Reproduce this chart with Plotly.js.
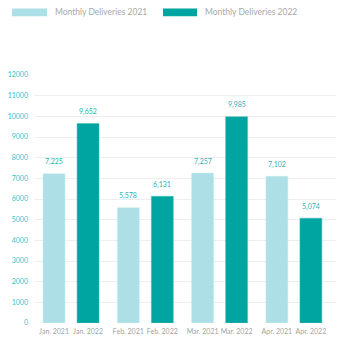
<!DOCTYPE html>
<html><head><meta charset="utf-8">
<script src="https://cdn.plot.ly/plotly-3.0.1.min.js"></script>
<style>html,body{margin:0;padding:0;background:#fff;}#chart{width:349px;height:343px;}</style>
</head><body><div id="chart"></div>
<script>
const months = ["Jan.", "Feb.", "Mar.", "Apr."];
const labels2021 = ["Jan. 2021", "Feb. 2021", "Mar. 2021", "Apr. 2021"];
const labels2022 = ["Jan. 2022", "Feb. 2022", "Mar. 2022", "Apr. 2022"];
const values2021 = [7225, 5578, 7257, 7102];
const values2022 = [9652, 6131, 9985, 5074];
const seriesNames = ["Monthly Deliveries 2021", "Monthly Deliveries 2022"];

const c2021 = "#addfe6", c2022 = "#00a4a1";
const off = 0.229, bw = 0.296;
const idx = months.map((m, i) => i);
const x2021 = idx.map(i => i - off);
const x2022 = idx.map(i => i + off);
const fmt = v => v.toLocaleString("en-US");
const font = "Lato, 'Open Sans', sans-serif";

const traces = [
  {type: "bar", x: x2021, y: values2021, width: bw, name: seriesNames[0],
   marker: {color: c2021, line: {color: "#c8ecef", width: 0.5}}, hoverinfo: "y"},
  {type: "bar", x: x2022, y: values2022, width: bw, name: seriesNames[1],
   marker: {color: c2022, line: {color: "#4cc0bd", width: 0.5}}, hoverinfo: "y"}
];

const ann = [];
x2021.forEach((x, i) => ann.push({x: x, y: values2021[i], text: fmt(values2021[i]), showarrow: false,
  yshift: 12, font: {size: 7, color: "#2bb3b3", family: font}}));
x2022.forEach((x, i) => ann.push({x: x, y: values2022[i], text: fmt(values2022[i]), showarrow: false,
  yshift: 12, font: {size: 7, color: "#2bb3b3", family: font}}));

// legend
ann.push({xref: "paper", yref: "paper", x: 0.0598, y: 1.2525, xanchor: "left", yanchor: "middle",
  text: seriesNames[0], showarrow: false, font: {size: 8.5, color: "#a8a8a8", family: font}});
ann.push({xref: "paper", yref: "paper", x: 0.558, y: 1.2525, xanchor: "left", yanchor: "middle",
  text: seriesNames[1], showarrow: false, font: {size: 8.5, color: "#a8a8a8", family: font}});

const shapes = [
  {type: "rect", xref: "paper", yref: "paper", x0: -0.0764, x1: 0.0399, y0: 1.2364, y1: 1.2686,
   fillcolor: c2021, line: {width: 0}},
  {type: "rect", xref: "paper", yref: "paper", x0: 0.4252, x1: 0.5382, y0: 1.2364, y1: 1.2686,
   fillcolor: c2022, line: {width: 0}}
];

const layout = {
  width: 349, height: 343,
  margin: {l: 35, r: 13, t: 75, b: 20, pad: 0},
  paper_bgcolor: "#fff", plot_bgcolor: "#fff",
  showlegend: false,
  font: {family: font},
  xaxis: {range: [-0.485, 3.567], tickvals: x2021.concat(x2022), ticktext: labels2021.concat(labels2022),
    showgrid: false, zeroline: false, showline: false, ticks: "", ticklabelstandoff: 3,
    tickfont: {size: 7, color: "#a3a3a3", family: font}, fixedrange: true},
  yaxis: {range: [0, 12000], dtick: 1000, tickformat: "d", showgrid: true, gridcolor: "#eeeeee", gridwidth: 1,
    zeroline: false, showline: false, ticks: "", ticklabelstandoff: 6,
    tickfont: {size: 7, color: "#3bbfc0", family: font}, fixedrange: true},
  annotations: ann, shapes: shapes, bargap: 0
};
Plotly.newPlot("chart", traces, layout, {displayModeBar: false, staticPlot: true});
</script></body></html>
